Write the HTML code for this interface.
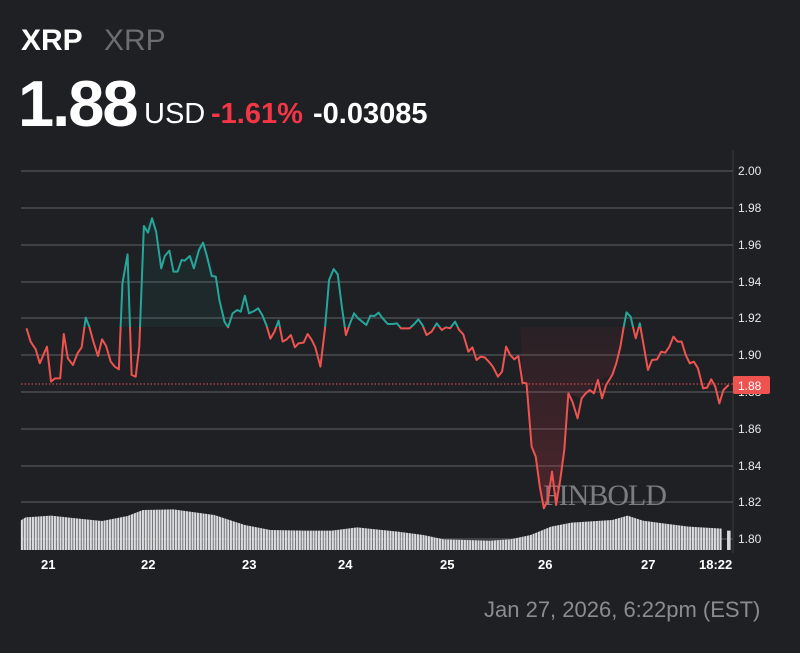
<!DOCTYPE html>
<html><head><meta charset="utf-8"><style>
body{margin:0;background:#1e2024;width:800px;height:653px;overflow:hidden;font-family:"Liberation Sans",sans-serif;position:relative}
.t{position:absolute;white-space:nowrap}
</style></head><body>
<div class="t" style="left:21px;top:24px;font-size:30px;font-weight:bold;color:#fff">XRP</div>
<div class="t" style="left:104px;top:24px;font-size:30px;color:#6b6d72">XRP</div>
<div class="t" style="left:18px;top:66px;font-size:65px;font-weight:bold;color:#fff;letter-spacing:-2px">1.88</div>
<div class="t" style="left:144px;top:98px;font-size:29px;color:#fff">USD</div>
<div class="t" style="left:211px;top:98px;font-size:29px;font-weight:bold;color:#f23645">-1.61%</div>
<div class="t" style="left:313px;top:98px;font-size:29px;font-weight:bold;color:#fff">-0.03085</div>
<div class="t" style="left:484px;top:597px;font-size:22px;color:#8a8c91">Jan 27, 2026, 6:22pm (EST)</div>
<svg width="800" height="653" style="position:absolute;left:0;top:0" font-family="Liberation Sans,sans-serif">
<defs>
<pattern id="bars" x="41" y="0" width="5.39" height="10" patternUnits="userSpaceOnUse"><rect width="4.3" height="10" fill="#dcdddf"/></pattern>
<clipPath id="up"><rect x="0" y="0" width="2400" height="531"/></clipPath>
<clipPath id="dn"><rect x="0" y="531" width="2400" height="2000"/></clipPath>
<linearGradient id="rg" x1="0" y1="0" x2="0" y2="1"><stop offset="0" stop-color="#f23645" stop-opacity="0.05"/><stop offset="1" stop-color="#f23645" stop-opacity="0.22"/></linearGradient>
</defs>
<line x1="733" y1="150" x2="733" y2="553" stroke="#3a3c40"/>
<g stroke="#4a4c50" stroke-width="1.5">
<line x1="21" x2="733" y1="171" y2="171"/><line x1="21" x2="733" y1="208" y2="208"/>
<line x1="21" x2="733" y1="245" y2="245"/><line x1="21" x2="733" y1="282" y2="282"/>
<line x1="21" x2="733" y1="318" y2="318"/><line x1="21" x2="733" y1="355" y2="355"/>
<line x1="21" x2="733" y1="392" y2="392"/><line x1="21" x2="733" y1="429" y2="429"/>
<line x1="21" x2="733" y1="466" y2="466"/><line x1="21" x2="733" y1="502" y2="502"/>
<line x1="21" x2="733" y1="539" y2="539"/>
</g>
<g fill="#e8e8ea" font-size="12">
<text x="738" y="175">2.00</text><text x="738" y="212">1.98</text><text x="738" y="249">1.96</text>
<text x="738" y="286">1.94</text><text x="738" y="322">1.92</text><text x="738" y="359">1.90</text>
<text x="738" y="396">1.88</text><text x="738" y="433">1.86</text><text x="738" y="470">1.84</text>
<text x="738" y="506">1.82</text><text x="738" y="543">1.80</text>
</g>
<g fill="#fff" font-size="13" font-weight="bold">
<text x="41" y="569">21</text><text x="141" y="569">22</text><text x="242" y="569">23</text>
<text x="338" y="569">24</text><text x="440" y="569">25</text><text x="538" y="569">26</text>
<text x="641" y="569">27</text><text x="699" y="569">18:22</text>
</g>
<text x="543" y="505" font-family="Liberation Serif,serif" font-size="30" fill="#8c8d90" opacity="0.85" letter-spacing="-1">FINBOLD</text>
<g transform="translate(0,150) scale(0.5102,0.33333)">
<polygon fill="url(#bars)" points="40,1110 40,1112 50,1102 100,1097 150,1105 200,1113 250,1098 280,1080 340,1078 420,1095 480,1125 530,1140 600,1142 650,1142 700,1132 780,1145 830,1155 870,1168 960,1172 1000,1168 1040,1155 1080,1130 1120,1118 1200,1110 1230,1097 1260,1112 1300,1120 1350,1130 1415,1136 1415,1200 40,1200"/>
<rect x="1425" y="1142" width="7" height="58" fill="#d7d8da"/>
<polygon clip-path="url(#up)" fill="#26a69a" opacity="0.07" points="240,531 240,400 250,313 258,531 273,531 282,228 298,205 316,355 340,365 398,278 423,380 440,515 447,531"/>
<polygon clip-path="url(#dn)" fill="url(#rg)" points="1020,531 1024,698 1032,700 1042,890 1050,920 1058,1010 1066,1075 1074,1050 1082,965 1090,1065 1098,990 1106,900 1114,730 1140,745 1172,690 1200,675 1216,590 1222,531"/>
<polyline id="pl" fill="none" stroke-width="2" vector-effect="non-scaling-stroke" stroke-linejoin="round" points="52,535 60,575 70,598 78,640 92,590 100,695 108,685 118,685 125,552 133,625 143,645 152,610 160,592 168,503 175,530 183,575 192,618 200,568 208,588 217,635 225,650 233,658 240,400 250,313 258,675 266,680 273,590 282,228 290,248 298,205 306,245 316,355 323,318 332,302 340,365 348,365 356,330 362,332 372,318 380,355 390,300 398,278 405,315 415,378 423,380 430,450 440,515 447,532 456,490 465,480 472,485 480,437 488,490 498,483 506,475 514,495 522,525 530,566 538,545 546,512 554,575 562,568 570,555 578,592 585,580 595,578 603,552 611,570 618,592 628,650 637,535 645,390 654,357 662,373 670,470 678,555 686,520 694,490 702,505 710,515 718,525 726,497 734,498 742,488 750,505 760,522 770,522 778,520 786,535 795,535 803,535 812,522 820,508 828,525 836,555 846,545 856,520 866,540 874,532 882,535 892,515 900,540 908,553 918,605 926,592 934,630 942,620 950,622 958,635 966,650 976,680 984,665 992,590 1000,615 1008,628 1016,618 1024,698 1032,700 1042,890 1050,920 1058,1010 1066,1075 1074,1050 1082,965 1090,1065 1098,990 1106,900 1114,730 1122,755 1132,805 1140,745 1148,730 1156,720 1164,730 1172,690 1180,745 1188,705 1200,675 1208,640 1216,590 1222,535 1228,487 1236,500 1246,565 1254,520 1262,590 1270,660 1278,630 1288,628 1296,605 1304,608 1312,590 1320,560 1328,575 1336,575 1344,615 1352,640 1360,635 1368,655 1378,715 1386,713 1394,688 1402,710 1410,760 1418,720 1428,705"/>
<use href="#pl" stroke="#26a69a" clip-path="url(#up)"/>
<use href="#pl" stroke="#ef5350" clip-path="url(#dn)"/>
</g>
<line x1="21" x2="733" y1="384" y2="384" stroke="#ef5350" stroke-dasharray="1.5,2" stroke-width="1"/>
<rect x="733" y="376" width="37" height="18" rx="2" fill="#ef5350"/>
<text x="738" y="390" fill="#fff" font-size="12">1.88</text>
</svg>
</body></html>
